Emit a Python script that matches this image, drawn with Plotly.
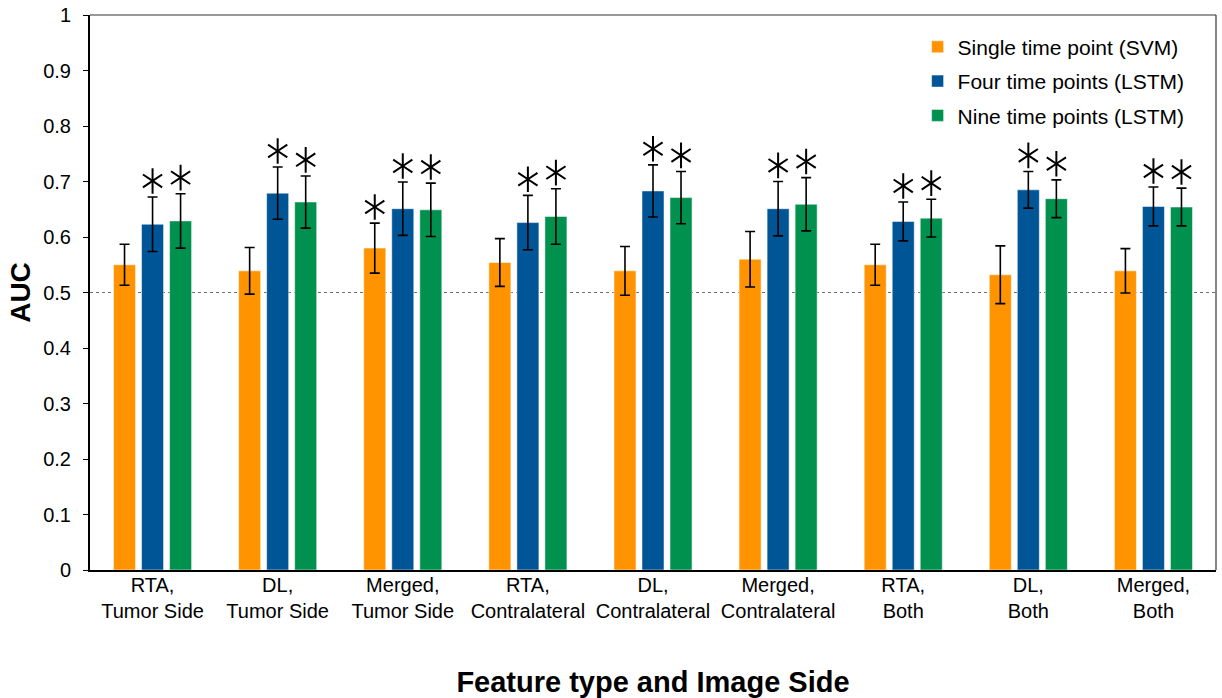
import plotly.graph_objects as go

categories = ["RTA,<br>Tumor Side", "DL,<br>Tumor Side", "Merged,<br>Tumor Side",
              "RTA,<br>Contralateral", "DL,<br>Contralateral", "Merged,<br>Contralateral",
              "RTA,<br>Both", "DL,<br>Both", "Merged,<br>Both"]

series_names = ["Single time point (SVM)", "Four time points (LSTM)", "Nine time points (LSTM)"]

svm_auc = [0.550, 0.539, 0.580, 0.554, 0.539, 0.560, 0.550, 0.532, 0.539]
svm_err = [0.037, 0.042, 0.045, 0.043, 0.044, 0.050, 0.037, 0.052, 0.040]
svm_sig = [False, False, True, False, False, False, False, False, False]

lstm4_auc = [0.623, 0.679, 0.651, 0.626, 0.683, 0.651, 0.628, 0.685, 0.655]
lstm4_err = [0.049, 0.047, 0.048, 0.049, 0.047, 0.049, 0.035, 0.033, 0.035]
lstm4_sig = [True] * 9

lstm9_auc = [0.629, 0.663, 0.649, 0.637, 0.671, 0.659, 0.634, 0.669, 0.654]
lstm9_err = [0.049, 0.047, 0.048, 0.050, 0.047, 0.048, 0.034, 0.034, 0.034]
lstm9_sig = [True] * 9

colors = ["#FF9300", "#005596", "#00914F"]

y_ticks = [0, 0.1, 0.2, 0.3, 0.4, 0.5, 0.6, 0.7, 0.8, 0.9, 1]
y_tick_text = ["0", "0.1", "0.2", "0.3", "0.4", "0.5", "0.6", "0.7", "0.8", "0.9", "1"]
chance_level = 0.5

FONT = "Liberation Sans, Arial, Helvetica, sans-serif"

all_auc = [svm_auc, lstm4_auc, lstm9_auc]
all_err = [svm_err, lstm4_err, lstm9_err]
all_sig = [svm_sig, lstm4_sig, lstm9_sig]

fig = go.Figure()

for i, name in enumerate(series_names):
    fig.add_trace(go.Bar(
        x=categories, y=all_auc[i], name=name,
        marker=dict(color=colors[i], line=dict(color="rgba(255,255,255,0.5)", width=1)),
        error_y=dict(type="data", array=all_err[i], visible=True,
                     color="black", thickness=1.6, width=5),
        offsetgroup=str(i), legendgroup=str(i),
    ))

star_offset = 0.029
for i in range(3):
    xs = [c for c, s in zip(categories, all_sig[i]) if s]
    ys = [v + e + star_offset for v, e, s in zip(all_auc[i], all_err[i], all_sig[i]) if s]
    for sym in ["y-up-open", "y-down-open"]:
        fig.add_trace(go.Scatter(
            x=xs, y=ys, mode="markers", offsetgroup=str(i),
            marker=dict(symbol=sym, size=16, color="black",
                        line=dict(color="black", width=2)),
            showlegend=False, hoverinfo="skip",
        ))

border_shapes = [
    dict(type="line", xref="paper", yref="y", x0=0, x1=1, y0=chance_level, y1=chance_level,
         layer="below", line=dict(color="#707070", width=1, dash="dot")),
    dict(type="line", xref="paper", yref="paper", x0=0, x1=1, y0=1, y1=1,
         layer="above", line=dict(color="#333333", width=1.2)),
    dict(type="line", xref="paper", yref="paper", x0=1, x1=1, y0=0, y1=1,
         layer="above", line=dict(color="#333333", width=1.2)),
]

fig.update_layout(
    width=1222, height=698,
    margin=dict(l=90, r=6, t=15, b=128),
    paper_bgcolor="white", plot_bgcolor="white",
    barmode="group", bargap=0.328, bargroupgap=0.214,
    scattermode="group", scattergap=0.328,
    font=dict(family=FONT, size=20, color="black"),
    showlegend=True,
    legend=dict(x=0.735, y=0.979, xanchor="left", yanchor="top",
                bgcolor="rgba(0,0,0,0)", font=dict(size=21, family=FONT),
                traceorder="grouped", tracegroupgap=4,
                itemwidth=30),
    xaxis=dict(
        showline=True, linecolor="black", linewidth=2, mirror=False,
        ticks="", tickfont=dict(size=20), showgrid=False, automargin=False,
        ticklabelstandoff=-4,
        title=dict(text="<b>Feature type and Image Side</b>", font=dict(size=29), standoff=51),
    ),
    yaxis=dict(
        range=[0, 1], tickvals=y_ticks, ticktext=y_tick_text,
        showline=True, linecolor="black", linewidth=2, automargin=False,
        ticks="outside", ticklen=5, tickcolor="black", tickwidth=1,
        ticklabelstandoff=8, ticklabeloverflow="allow",
        showgrid=False, zeroline=False, tickfont=dict(size=20),
        title=dict(text="<b>AUC</b>", font=dict(size=28), standoff=4),
    ),
    shapes=border_shapes,
)

fig.write_html("out.html",
               config={"displayModeBar": False},
               post_script="document.body.style.margin='0';document.body.style.overflow='hidden';")
